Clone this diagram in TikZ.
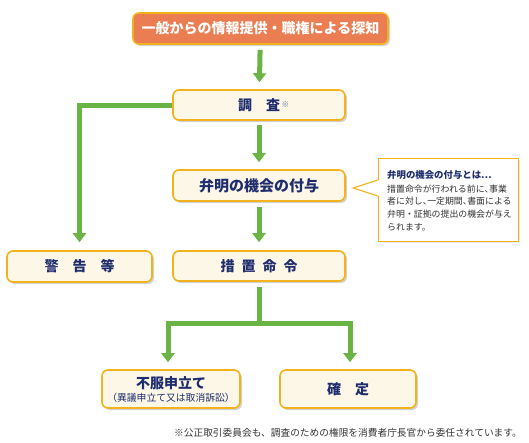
\documentclass[tikz,border=0pt]{standalone}
\usepackage{fontspec}
\newfontfamily\jp{Noto Sans CJK JP}
\usetikzlibrary{arrows.meta,shadows,calc}
\definecolor{navy}{HTML}{1F2D6E}
\definecolor{gold}{HTML}{F2B21C}
\definecolor{cream}{HTML}{FCF7E6}
\definecolor{topfill}{HTML}{EA7D52}
\definecolor{flowgreen}{HTML}{6AB446}
\definecolor{bodygray}{HTML}{333333}
\newcommand{\hc}{\makebox[0.5em][l]{、}}
\begin{document}
\begin{tikzpicture}[x=1pt,y=-1pt,
  box/.style={draw=gold, line width=1.6pt, fill=cream, rounded corners=6pt,
    drop shadow={shadow xshift=2pt,shadow yshift=-2pt,fill=black!35,opacity=0.5},
    text=navy, font=\jp\bfseries\fontsize{14}{16}\selectfont,
    minimum width=172pt, minimum height=30pt, inner sep=0pt},
  topbox/.style={box, fill=topfill, text=white, minimum width=255pt, minimum height=31pt},
  flow/.style={draw=flowgreen, line width=5pt, -{Triangle[width=13pt,length=9pt]}},
  flowline/.style={draw=flowgreen, line width=5pt}
]
\useasboundingbox (0,0) rectangle (529,442);

\node[topbox] (top) at (260.5,28.5) {一般からの情報提供・職権による探知};
\node[box] (chosa) at (259,105) {調　査\rlap{\raisebox{3pt}{\textcolor{navy!70}{\fontsize{8}{9}\selectfont\,※}}}};
\node[box, font=\jp\bfseries\fontsize{15}{17}\selectfont, minimum height=31pt] (benmei) at (259,185.5) {弁明の機会の付与};
\node[box] (shochi) at (259,266) {措\hspace{0.5em}置\hspace{0.5em}命\hspace{0.5em}令};
\node[box, minimum width=145pt, minimum height=31pt] (keikoku) at (79.5,266.5) {警　告　等};
\node[box, minimum width=138pt, minimum height=38pt, align=center] (fufuku) at (171,389)
  {不服申立て\\[-3pt]{\mdseries\fontsize{9.8}{10}\selectfont （異議申立て又は取消訴訟）}};
\node[box, minimum width=136pt, minimum height=38pt] (kakutei) at (348,389) {確　定};

% callout
\node[draw=gold, line width=1.1pt, fill=white, anchor=north west, minimum width=140pt,
  minimum height=83pt, inner sep=0pt,
  drop shadow={shadow xshift=1.5pt,shadow yshift=-1.5pt,fill=black!20,opacity=0.4}] (callout) at (378,158) {};
\fill[white] ($(callout.north west)+(1.2,22)$) -- (353,188) -- ($(callout.north west)+(1.2,38)$) -- cycle;
\draw[gold, line width=1.1pt, line join=miter] ($(callout.north west)+(0,22)$) -- (353,188) -- ($(callout.north west)+(0,38)$);
\node[anchor=west, inner sep=0pt, text=navy, font=\jp\bfseries\fontsize{9.4}{11}\selectfont] (ctitle) at (387,175) {弁明の機会の付与とは…};
\node[anchor=north west, inner sep=0pt, align=left, text=bodygray, font=\jp\fontsize{8.9}{12.7}\selectfont] (cbody) at (387,184.5)
  {措置命令が行われる前に\hc 事業\\者に対し\hc 一定期間\hc 書面による\\弁明・証拠の提出の機会が与え\\られます。};

% connectors
\draw[flow, shorten <=5pt, shorten >=7pt] (top) -- (chosa);
\draw[flow, shorten <=4pt, shorten >=7pt] (chosa) -- (benmei);
\draw[flow, shorten <=5pt, shorten >=8pt] (benmei) -- (shochi);
\draw[flow, line join=miter, shorten >=8pt] (chosa.west) -| (keikoku.north);
\coordinate (j) at (259,323);
\draw[flowline, shorten <=5pt] (shochi.south) -- (j);
\draw[flow, {Triangle[width=13pt,length=9pt]}-{Triangle[width=13pt,length=9pt]}, line join=miter, shorten <=7pt, shorten >=7pt]
  ([xshift=-3pt]fufuku.north) |- (j) -| ([xshift=2pt]kakutei.north);

\node[inner sep=0pt, text=bodygray, font=\jp\fontsize{9.7}{11}\selectfont] (note) at (348,433)
  {※公正取引委員会も、調査のための権限を消費者庁長官から委任されています。};
\end{tikzpicture}
\end{document}
